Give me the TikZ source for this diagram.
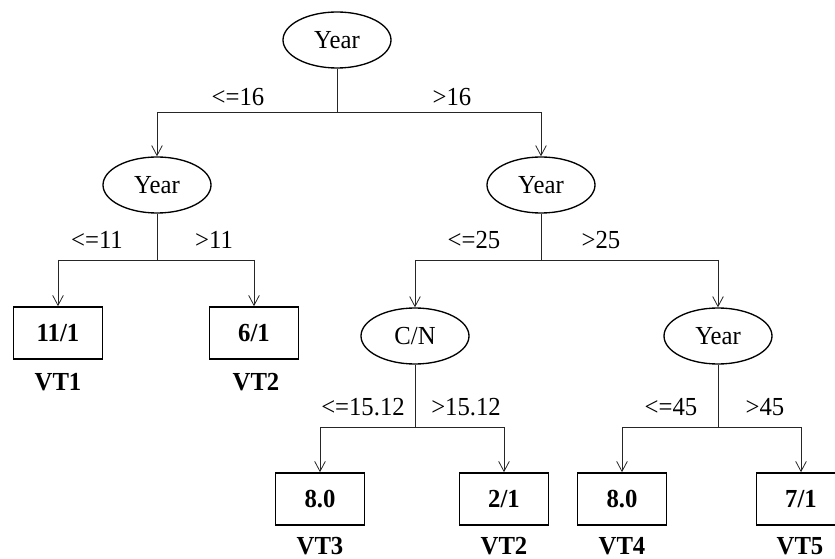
\documentclass[tikz,border=0pt]{standalone}
\usepackage{fontspec}
\setmainfont{Liberation Serif}[FakeStretch=0.95]
\usetikzlibrary{shapes.geometric,arrows.meta}

\newcommand{\treesize}{\fontsize{19.5}{21}\selectfont}
\tikzset{
  var/.style={ellipse,draw,line width=1pt,minimum width=81pt,minimum height=42pt,inner sep=0pt},
  leaf/.style={rectangle,draw,line width=1.2pt,minimum width=66.75pt,minimum height=39pt,inner sep=0pt,font=\treesize\bfseries},
  vt/.style={inner sep=0pt,font=\treesize\bfseries},
  branch/.style={line width=0.6pt,draw=black!85},
  ar/.style={branch,-{Straight Barb[length=7.5pt,width=8pt]}},
}

\begin{document}
\begin{tikzpicture}[x=0.75pt,y=-0.75pt,font=\treesize]
       \useasboundingbox(0,0)rectangle(835,559);%画像の枠
       \clip(0,0)rectangle(835,559);

       \node[var](n0)at(337,40){Year};%根
       \node[var](n1)at(157,185){Year};
       \node[var](n2)at(541,185){Year};
       \node[var](n3)at(415,336){C/N};
       \node[var](n4)at(718,336){Year};

       \node[leaf](l1)at(58,333){11/1};%葉
       \node[leaf](l2)at(254,333){6/1};
       \node[leaf](l3)at(320,499){8.0};
       \node[leaf](l4)at(504,499){2/1};
       \node[leaf](l5)at(622,499){8.0};
       \node[leaf](l6)at(801,499){7/1};

       \node[vt](v1)at(58,382){VT1};
       \node[vt](v2)at(256,382){VT2};
       \node[vt](v3)at(320,546){VT3};
       \node[vt](v4)at(504,546){VT2};
       \node[vt](v5)at(622,546){VT4};
       \node[vt](v6)at(800,546){VT5};

       \foreach \p/\a/\b/\y in{n0/n1/n2/112,n1/l1/l2/260,n2/n3/n4/260,n3/l3/l4/427,n4/l5/l6/427}{
           \coordinate(j\p)at(\p |- 0,\y);%分岐点
           \coordinate(a\p)at(\a |- 0,\y);
           \coordinate(b\p)at(\b |- 0,\y);
           \draw[branch](\p)--(j\p);
           \draw[branch](a\p)--(b\p);
           \draw[ar](a\p)--(\a);
           \draw[ar](b\p)--(\b);
       }

       \node(c0l)at(238,97){<=16};%条件
       \node(c0r)at(452,97){>16};
       \node(c1l)at(97,240){<=11};
       \node(c1r)at(214,240){>11};
       \node(c2l)at(474,240){<=25};
       \node(c2r)at(601,240){>25};
       \node(c3l)at(363,407){<=15.12};
       \node(c3r)at(466,407){>15.12};
       \node(c4l)at(671,407){<=45};
       \node(c4r)at(765,407){>45};
      \end{tikzpicture}
\end{document}
